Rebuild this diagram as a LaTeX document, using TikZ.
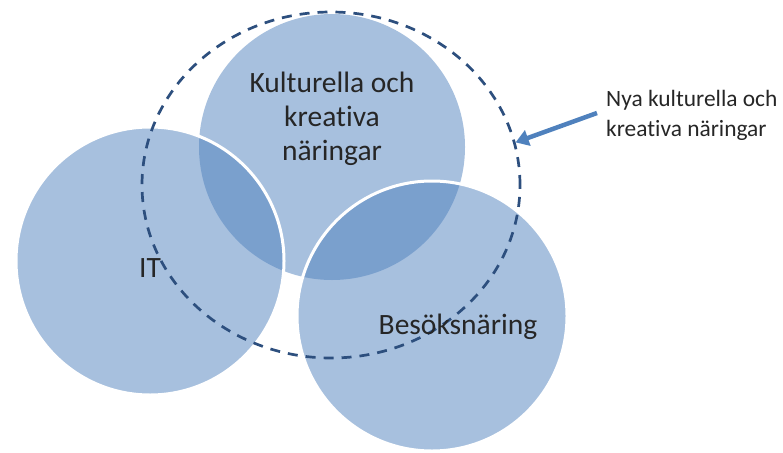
\documentclass[tikz,border=0pt]{standalone}
\usepackage{fontspec}
\setmainfont{Carlito}[Ligatures=NoCommon]
\usetikzlibrary{arrows.meta,shapes.geometric}
\definecolor{venn}{HTML}{4F81BD}
\definecolor{dashc}{HTML}{2D4F7E}
\definecolor{txt}{HTML}{262626}
\begin{document}
\begin{tikzpicture}[x=1pt,y=-1pt,
  venncirc/.style={circle, inner sep=0pt, outer sep=0pt, fill=venn, fill opacity=0.5},
  whiteedge/.style={draw=white, line width=3pt},
  biglbl/.style={font=\fontsize{29.5}{34}\selectfont, text=txt, align=center, inner sep=0pt},
  smalllbl/.style={font=\fontsize{23.4}{30}\selectfont, text=txt, align=left, inner sep=0pt},
  newring/.style={ellipse, inner sep=0pt, draw=dashc, dash pattern=on 10pt off 8pt, line width=2.7pt},
  pointer/.style={draw=venn, line width=4.5pt, -{Triangle[width=16pt,length=13pt]}}]
\useasboundingbox (0,0) rectangle (783,452);
% circles
\node[venncirc, minimum size=266pt] (kkn) at (332,147) {};
\node[venncirc, whiteedge, minimum size=268pt] (it) at (150,261) {};
\node[venncirc, whiteedge, minimum size=270pt] (bes) at (432,316) {};
% dashed ring
\node[newring, minimum width=378pt, minimum height=346pt] (ring) at (331,185) {};
% labels
\node[biglbl] (kknlbl) at (332,119) {Kulturella och\\kreativa\\näringar};
\node[biglbl] (itlbl) at (150,268) {IT};
\node[biglbl] (beslbl) at (458,327) {Besöksnäring};
\node[smalllbl, anchor=west] (nya) at (606,115) {Nya kulturella och\\kreativa näringar};
% arrow
\coordinate (arrS) at (597,113);
\draw[pointer] (arrS) -- (ring.13);
\end{tikzpicture}
\end{document}
